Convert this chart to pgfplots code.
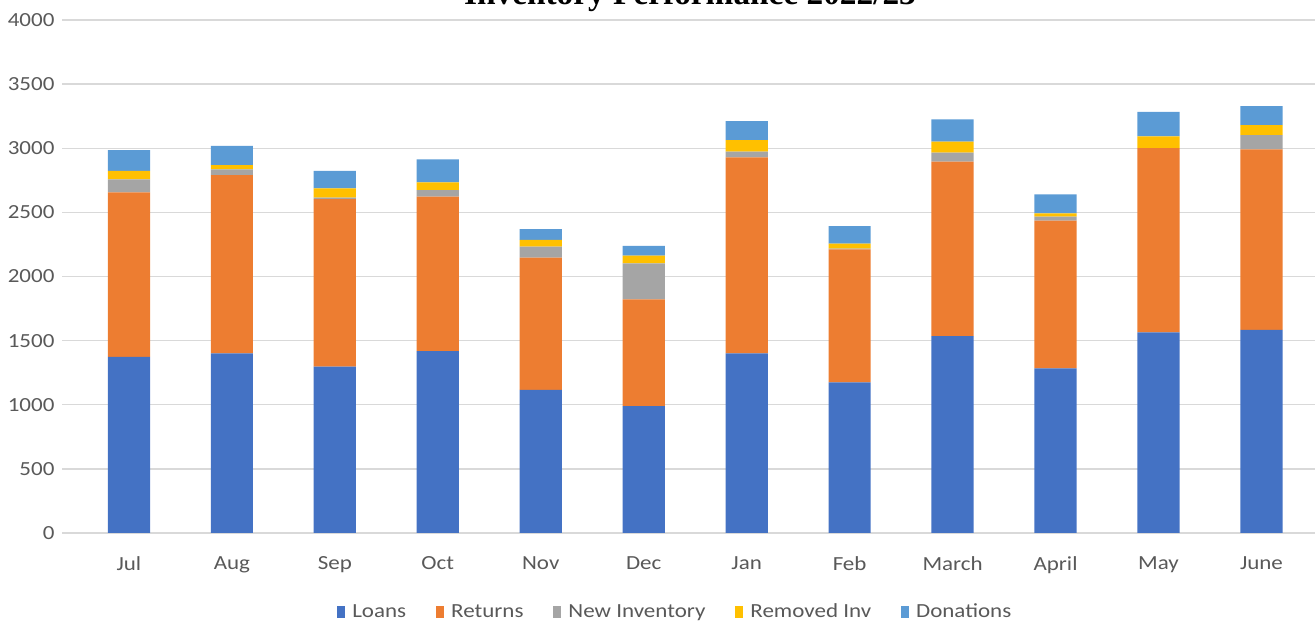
\documentclass[border=0pt]{standalone}
\usepackage{fontspec}
\setmainfont{Carlito}
\newfontfamily\lblfont[FakeStretch=1.15]{Carlito}
\newfontfamily\titlefont{Liberation Serif}
\usepackage{pgfplots}
\usepackage{pgfplotstable}
\pgfplotsset{compat=1.18}

\definecolor{cLoans}{HTML}{4472C4}
\definecolor{cReturns}{HTML}{ED7D31}
\definecolor{cNew}{HTML}{A5A5A5}
\definecolor{cRemoved}{HTML}{FFC000}
\definecolor{cDon}{HTML}{5B9BD5}
\definecolor{gridgray}{HTML}{D9D9D9}
\definecolor{txtgray}{HTML}{595959}

% month index, loans, returns, new inventory, removed inv, donations
\pgfplotstableread{
x loans returns newinv removed donations
0  1373 1283 102 65 163
1  1401 1390 45  33 149
2  1297 1307 10  73 136
3  1419 1203 52  60 180
4  1115 1032 86  52 85
5  990  832  281 59 76
6  1401 1528 44  91 148
7  1175 1037 5   39 137
8  1536 1359 70  86 175
9  1284 1151 31  27 148
10 1565 1435 0   92 191
11 1583 1409 111 78 148
}\invdata

\begin{document}
\begin{tikzpicture}
% page = 1315 x 627 px at 0.6pt per px
\useasboundingbox (0pt,0pt) rectangle (789pt,376.2pt);
\begin{axis}[
    at={(37.2pt,56.4pt)}, anchor=south west,
    scale only axis,
    width=751.8pt, height=307.8pt,
    ybar stacked,
    bar width=0.41,
    xmin=-0.65, xmax=11.52,
    ymin=0, ymax=4000,
    ytick={0,500,...,4000},
    xtick={0,...,11},
    xticklabels={Jul,Aug,Sep,Oct,Nov,Dec,Jan,Feb,March,April,May,June},
    ymajorgrids,
    grid style={gridgray, line width=0.8pt},
    axis line style={draw=none},
    major tick length=0pt,
    /pgf/number format/assume math mode=true,
    /pgf/number format/1000 sep={},
    tick label style={font=\lblfont\fontsize{12}{14}\selectfont, text=txtgray},
    yticklabel style={xshift=-1pt},
    xticklabel style={yshift=-10.5pt},
    legend columns=5,
    legend style={at={(0.49,-0.154)}, anchor=center, draw=none,
        font=\lblfont\fontsize{12}{14}\selectfont, text=txtgray,
        /tikz/every odd column/.append style={column sep=2.5pt},
        /tikz/every even column/.append style={column sep=16pt}},
    legend image code/.code={\fill[#1] (0pt,-3.5pt) rectangle (4.5pt,3.5pt);},
]
\addplot[fill=cLoans, draw=none] table[x=x, y=loans] {\invdata};
\addplot[fill=cReturns, draw=none] table[x=x, y=returns] {\invdata};
\addplot[fill=cNew, draw=none] table[x=x, y=newinv] {\invdata};
\addplot[fill=cRemoved, draw=none] table[x=x, y=removed] {\invdata};
\addplot[fill=cDon, draw=none] table[x=x, y=donations] {\invdata};
\legend{Loans, Returns, New Inventory, Removed Inv, Donations}
\end{axis}
\node[anchor=base, inner sep=0pt] at (414pt,373.2pt) {\titlefont\bfseries\fontsize{20}{24}\selectfont Inventory Performance 2022/23};
\end{tikzpicture}
\end{document}
